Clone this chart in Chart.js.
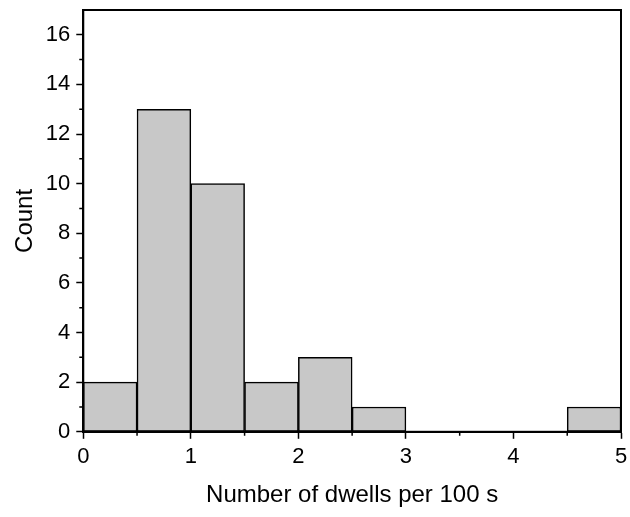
<!DOCTYPE html>
<html>
<head>
<meta charset="utf-8">
<script src="https://cdn.jsdelivr.net/npm/chart.js@4/dist/chart.umd.min.js"></script>
<style>
  html, body { margin: 0; padding: 0; background: #fff; }
  #wrap { width: 630px; height: 517px; }
</style>
</head>
<body>
<div id="wrap"><canvas id="histChart" width="630" height="517"></canvas></div>
<script>
// histogram bins (lower edges) and counts
const binStarts = [0, 0.5, 1, 1.5, 2, 2.5, 3, 3.5, 4, 4.5];
const binWidth = 0.5;
const counts = [2, 13, 10, 2, 3, 1, 0, 0, 0, 1];
const xTicks = [0, 1, 2, 3, 4, 5];
const yTicks = [0, 2, 4, 6, 8, 10, 12, 14, 16];

const fontFamily = '"Liberation Sans", Arial, sans-serif';

// frame around plot + minor ticks
const framePlugin = {
  id: 'frame',
  afterDraw(chart) {
    const ctx = chart.ctx;
    const a = chart.chartArea;
    const xs = chart.scales.x, ys = chart.scales.y;
    ctx.save();
    ctx.strokeStyle = '#000';
    ctx.lineWidth = 2;
    ctx.strokeRect(a.left, a.top, a.right - a.left, a.bottom - a.top);
    ctx.lineWidth = 1.5;
    ctx.beginPath();
    for (let v = 0.5; v < 5; v += 1) {
      const px = xs.getPixelForValue(v);
      ctx.moveTo(px, a.bottom);
      ctx.lineTo(px, a.bottom + 4);
    }
    for (let v = 1; v < 17; v += 2) {
      const py = ys.getPixelForValue(v);
      ctx.moveTo(a.left, py);
      ctx.lineTo(a.left - 4, py);
    }
    ctx.stroke();
    ctx.restore();
  }
};

const ctx = document.getElementById('histChart').getContext('2d');
new Chart(ctx, {
  type: 'bar',
  data: {
    datasets: [{
      data: binStarts.map((b, i) => ({ x: b + binWidth / 2, y: counts[i] })),
      backgroundColor: '#c8c8c8',
      borderColor: '#000',
      borderWidth: 1.5,
      borderSkipped: false,
      barPercentage: 1,
      categoryPercentage: 1
    }]
  },
  options: {
    responsive: false,
    animation: false,
    layout: { padding: { left: 6, right: 0, top: 10, bottom: 7 } },
    plugins: { legend: { display: false }, tooltip: { enabled: false } },
    scales: {
      x: {
        type: 'linear',
        min: 0,
        max: 5,
        offset: false,
        afterBuildTicks: s => { s.ticks = xTicks.map(v => ({ value: v })); },
        afterFit: s => { s.paddingRight = 9; },
        ticks: { color: '#000', font: { family: fontFamily, size: 22 }, padding: 5, maxRotation: 0 },
        grid: { offset: false, drawOnChartArea: false, tickLength: 7, tickColor: '#000', tickWidth: 1.5 },
        border: { color: '#000', width: 2 },
        title: { display: true, text: 'Number of dwells per 100 s', color: '#000', font: { family: fontFamily, size: 24 }, padding: { top: 6, bottom: 0 } }
      },
      y: {
        min: 0,
        max: 17,
        afterBuildTicks: s => { s.ticks = yTicks.map(v => ({ value: v })); },
        afterFit: s => { s.paddingTop = 0; },
        ticks: { color: '#000', font: { family: fontFamily, size: 22 }, padding: 6 },
        grid: { drawOnChartArea: false, tickLength: 7, tickColor: '#000', tickWidth: 1.5 },
        border: { color: '#000', width: 2 },
        title: { display: true, text: 'Count', color: '#000', font: { family: fontFamily, size: 24 }, padding: { top: 5, bottom: 0 } }
      }
    }
  },
  plugins: [framePlugin]
});
</script>
</body>
</html>
